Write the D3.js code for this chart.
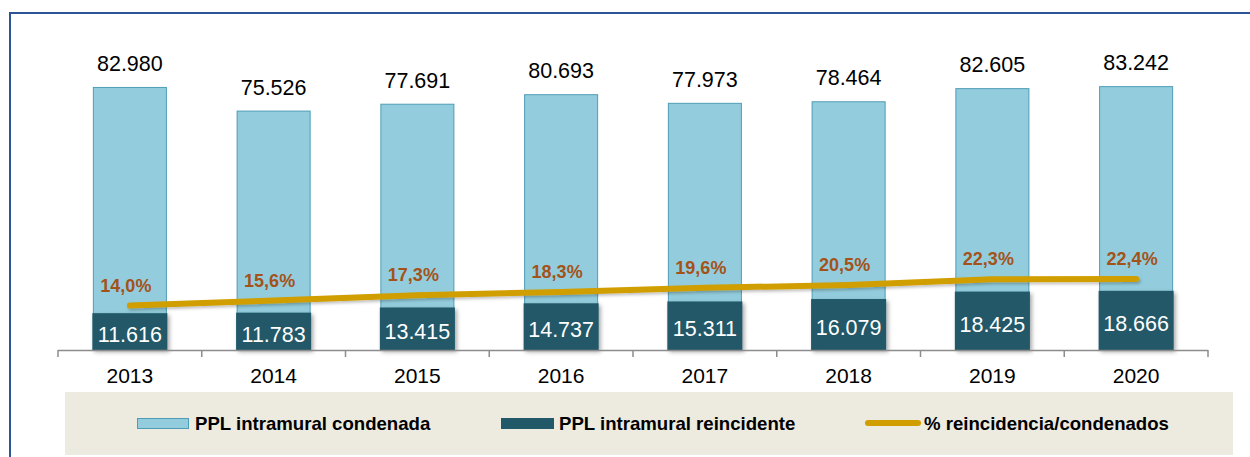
<!DOCTYPE html>
<html>
<head>
<meta charset="utf-8">
<script src="https://cdn.jsdelivr.net/npm/d3@7"></script>
<style>
  html, body { margin: 0; padding: 0; background: #ffffff; }
  svg { display: block; font-family: "Liberation Sans", Arial, sans-serif; }
</style>
</head>
<body>
<svg id="chart" width="1250" height="457"></svg>
<script>
const years = ["2013", "2014", "2015", "2016", "2017", "2018", "2019", "2020"];
const condenada = [82980, 75526, 77691, 80693, 77973, 78464, 82605, 83242];
const reincidente = [11616, 11783, 13415, 14737, 15311, 16079, 18425, 18666];
const pctReincidencia = [0.140, 0.156, 0.173, 0.183, 0.196, 0.205, 0.223, 0.224];
const seriesNames = ["PPL intramural condenada", "PPL intramural reincidente", "% reincidencia/condenados"];

const fmtInt = v => d3.format(",")(v).replace(/,/g, ".");
const fmtPct = v => (v * 100).toFixed(1).replace(".", ",") + "%";

const svg = d3.select("#chart");
const W = 1250, H = 457;

const defs = svg.append("defs");
const sh = defs.append("filter").attr("id", "shadow").attr("x", "-20%").attr("y", "-20%").attr("width", "150%").attr("height", "150%");
sh.append("feDropShadow").attr("dx", 2).attr("dy", 2).attr("stdDeviation", 2).attr("flood-color", "#000").attr("flood-opacity", 0.35);
const sh2 = defs.append("filter").attr("id", "lshadow").attr("x", "-5%").attr("y", "-50%").attr("width", "110%").attr("height", "300%");
sh2.append("feDropShadow").attr("dx", 1.5).attr("dy", 2).attr("stdDeviation", 1.5).attr("flood-color", "#000").attr("flood-opacity", 0.25);

// frame
svg.append("rect").attr("x", 0).attr("y", 0).attr("width", W).attr("height", H).attr("fill", "#ffffff");
svg.append("path").attr("d", `M10,${H} L10,13 L${W},13`).attr("fill", "none").attr("stroke", "#2B5597").attr("stroke-width", 2);

const x = d3.scaleBand().domain(years).range([58, 1208]).paddingInner(0.485).paddingOuter(0.2425);
const y = d3.scaleLinear().domain([0, 100000]).range([350, 33]);
const yPct = d3.scaleLinear().domain([0, 1]).range([350, 33]);
const cx = d => x(d) + x.bandwidth() / 2;

// light bars
svg.append("g").selectAll("rect").data(years).join("rect")
  .attr("x", d => x(d) + 0.5)
  .attr("y", (d, i) => y(condenada[i]) + 0.5)
  .attr("width", x.bandwidth() - 1)
  .attr("height", (d, i) => y(0) - y(condenada[i]) - 0.5)
  .attr("fill", "#93CDDD")
  .attr("stroke", "#4E9DB6")
  .attr("stroke-width", 1);

// dark bars
svg.append("g").selectAll("rect").data(years).join("rect")
  .attr("x", d => x(d) - 0.5)
  .attr("y", (d, i) => y(reincidente[i]))
  .attr("width", x.bandwidth() + 1)
  .attr("height", (d, i) => y(0) - y(reincidente[i]))
  .attr("fill", "#215968")
  .attr("filter", "url(#shadow)");

// axis
const axisG = svg.append("g");
axisG.append("line").attr("x1", 58).attr("x2", 1208).attr("y1", 350.5).attr("y2", 350.5)
  .attr("stroke", "#8C8C8C").attr("stroke-width", 1.5);
const gap = x.step() - x.bandwidth();
const bounds = years.map(d => x(d) - gap / 2).concat([x(years[years.length - 1]) + x.bandwidth() + gap / 2]);
axisG.selectAll("line.tick").data(bounds).join("line").attr("class", "tick")
  .attr("x1", d => d).attr("x2", d => d).attr("y1", 350).attr("y2", 357)
  .attr("stroke", "#8C8C8C").attr("stroke-width", 1.5);

const xAxis = d3.axisBottom(x).tickSize(0).tickPadding(0);
const xg = svg.append("g").attr("transform", "translate(0,368)").call(xAxis);
xg.select(".domain").remove();
xg.selectAll("text").attr("font-size", 21).attr("fill", "#000").attr("dy", "0.71em")
  .style("font-family", "'Liberation Sans', Arial, sans-serif");

// value labels above light bars
svg.append("g").selectAll("text").data(years).join("text")
  .attr("x", d => cx(d))
  .attr("y", (d, i) => y(condenada[i]) - 16)
  .attr("text-anchor", "middle").attr("font-size", 21.5).attr("fill", "#000")
  .text((d, i) => fmtInt(condenada[i]));

// labels in dark bars
svg.append("g").selectAll("text").data(years).join("text")
  .attr("x", d => cx(d))
  .attr("y", (d, i) => (y(reincidente[i]) + y(0)) / 2 + 3)
  .attr("dy", "0.36em")
  .attr("text-anchor", "middle").attr("font-size", 21.5).attr("fill", "#ffffff")
  .text((d, i) => fmtInt(reincidente[i]));

// line
const line = d3.line().x(d => cx(d)).y((d, i) => yPct(pctReincidencia[i]));
svg.append("path").datum(years).attr("d", line)
  .attr("fill", "none").attr("stroke", "#D19E00").attr("stroke-width", 6)
  .attr("stroke-linecap", "round").attr("stroke-linejoin", "round")
  .attr("filter", "url(#lshadow)");

// pct labels
svg.append("g").selectAll("text").data(years).join("text")
  .attr("x", d => cx(d) - 4)
  .attr("y", (d, i) => yPct(pctReincidencia[i]) - 14)
  .attr("text-anchor", "middle").attr("font-size", 18).attr("font-weight", "bold").attr("fill", "#A3531A")
  .text((d, i) => fmtPct(pctReincidencia[i]));

// legend
const lg = svg.append("g");
lg.append("rect").attr("x", 65).attr("y", 392).attr("width", 1168).attr("height", 63).attr("fill", "#EDEBE0");
const ly = 423;
const lfs = 18.6;
lg.append("rect").attr("x", 137.5).attr("y", 418.5).attr("width", 51).attr("height", 10)
  .attr("fill", "#93CDDD").attr("stroke", "#4E9DB6");
lg.append("text").attr("x", 195).attr("y", ly).attr("dy", "0.36em").attr("font-size", lfs).attr("font-weight", "bold")
  .attr("fill", "#000").text(seriesNames[0]);
lg.append("rect").attr("x", 501).attr("y", 418).attr("width", 53).attr("height", 11).attr("fill", "#215968");
lg.append("text").attr("x", 559).attr("y", ly).attr("dy", "0.36em").attr("font-size", lfs).attr("font-weight", "bold")
  .attr("fill", "#000").text(seriesNames[1]);
lg.append("line").attr("x1", 868).attr("x2", 918).attr("y1", ly).attr("y2", ly)
  .attr("stroke", "#D19E00").attr("stroke-width", 6).attr("stroke-linecap", "round");
lg.append("text").attr("x", 924).attr("y", ly).attr("dy", "0.36em").attr("font-size", lfs).attr("font-weight", "bold")
  .attr("fill", "#000").text(seriesNames[2]);
</script>
</body>
</html>
